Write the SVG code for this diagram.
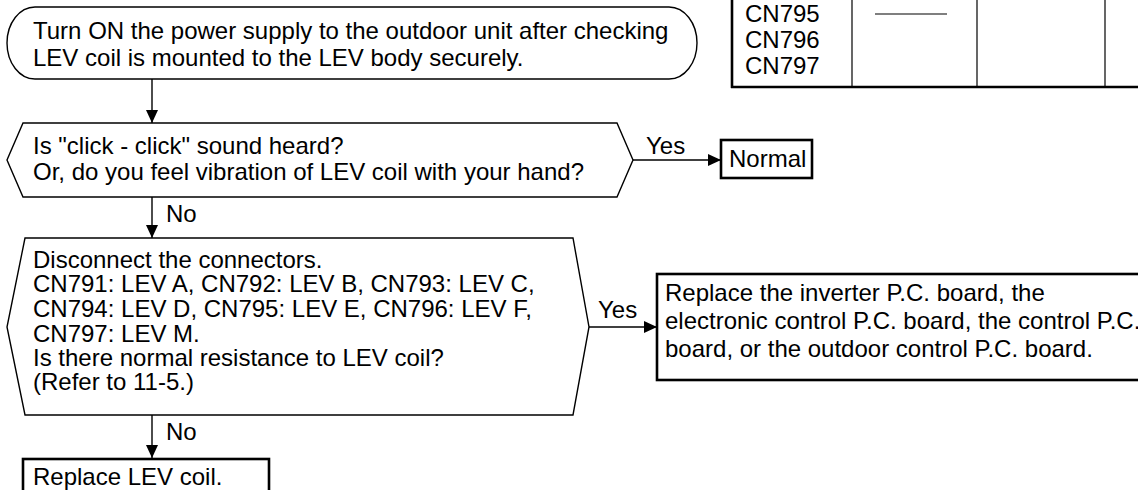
<svg xmlns="http://www.w3.org/2000/svg" width="1138" height="490" viewBox="0 0 1138 490">
<style>
  .t { font-family: "Liberation Sans", Arial, sans-serif; font-size: 24px; fill: #000; }
  .thin { fill: #fff; stroke: #000; stroke-width: 1.4; }
  .thick { fill: #fff; stroke: #000; stroke-width: 2.6; }
  .conn { stroke: #000; stroke-width: 1.4; fill: none; }
</style>
<defs>
  <marker id="arr" markerUnits="userSpaceOnUse" markerWidth="14" markerHeight="12" refX="13" refY="6" orient="auto">
    <path d="M0,0 L13,6 L0,12 Z" fill="#000"/>
  </marker>
</defs>
<rect width="1138" height="490" fill="#fff"/>

<g id="table">
  <line x1="852" y1="0" x2="852" y2="87" stroke="#000" stroke-width="1.2"/>
  <line x1="977" y1="0" x2="977" y2="87" stroke="#000" stroke-width="1.2"/>
  <line x1="1105" y1="0" x2="1105" y2="87" stroke="#000" stroke-width="1.2"/>
  <line x1="732" y1="0" x2="732" y2="88" stroke="#000" stroke-width="2.6"/>
  <line x1="731" y1="87" x2="1138" y2="87" stroke="#000" stroke-width="2.6"/>
  <line x1="875" y1="14" x2="947" y2="14" stroke="#000" stroke-width="1.2"/>
  <text class="t" x="745" y="22">CN795</text>
  <text class="t" x="745" y="48">CN796</text>
  <text class="t" x="745" y="74">CN797</text>
</g>

<g id="start">
  <path class="thin" d="M35,7 H669 A28,36 0 0 1 669,79 H35 A28,36 0 0 1 35,7 Z"/>
  <text class="t" x="33" y="39">Turn ON the power supply to the outdoor unit after checking</text>
  <text class="t" x="33" y="66">LEV coil is mounted to the LEV body securely.</text>
</g>

<g id="decision1">
  <polygon class="thin" points="23,123 617,123 633,160 617,197 23,197 7,160"/>
  <text class="t" x="33" y="154">Is "click - click" sound heard?</text>
  <text class="t" x="33" y="180">Or, do you feel vibration of LEV coil with your hand?</text>
</g>

<g id="normal">
  <rect class="thick" x="721" y="140" width="91" height="38"/>
  <text class="t" x="729" y="167">Normal</text>
</g>

<g id="decision2">
  <polygon class="thin" points="25,238 573,238 589,327 573,415 25,415 7,327"/>
  <text class="t" x="33" y="268">Disconnect the connectors.</text>
  <text class="t" x="33" y="292">CN791: LEV A, CN792: LEV B, CN793: LEV C,</text>
  <text class="t" x="33" y="317">CN794: LEV D, CN795: LEV E, CN796: LEV F,</text>
  <text class="t" x="33" y="342">CN797: LEV M.</text>
  <text class="t" x="33" y="366">Is there normal resistance to LEV coil?</text>
  <text class="t" x="33" y="390">(Refer to 11-5.)</text>
</g>

<g id="replace-board">
  <rect class="thick" x="657" y="274" width="490" height="106"/>
  <text class="t" x="665" y="301">Replace the inverter P.C. board, the</text>
  <text class="t" x="665" y="329">electronic control P.C. board, the control P.C.</text>
  <text class="t" x="665" y="357">board, or the outdoor control P.C. board.</text>
</g>

<g id="replace-coil">
  <rect class="thick" x="23" y="459" width="246" height="45"/>
  <text class="t" x="33" y="485">Replace LEV coil.</text>
</g>

<g id="connectors">
  <line class="conn" x1="152" y1="79" x2="152" y2="123" marker-end="url(#arr)"/>
  <line class="conn" x1="152" y1="197" x2="152" y2="238" marker-end="url(#arr)"/>
  <line class="conn" x1="152" y1="415" x2="152" y2="458" marker-end="url(#arr)"/>
  <line class="conn" x1="633" y1="160" x2="721" y2="160" marker-end="url(#arr)"/>
  <line class="conn" x1="589" y1="327" x2="657" y2="327" marker-end="url(#arr)"/>
  <text class="t" x="166" y="222">No</text>
  <text class="t" x="166" y="440">No</text>
  <text class="t" x="646" y="154">Yes</text>
  <text class="t" x="598" y="318">Yes</text>
</g>
</svg>
